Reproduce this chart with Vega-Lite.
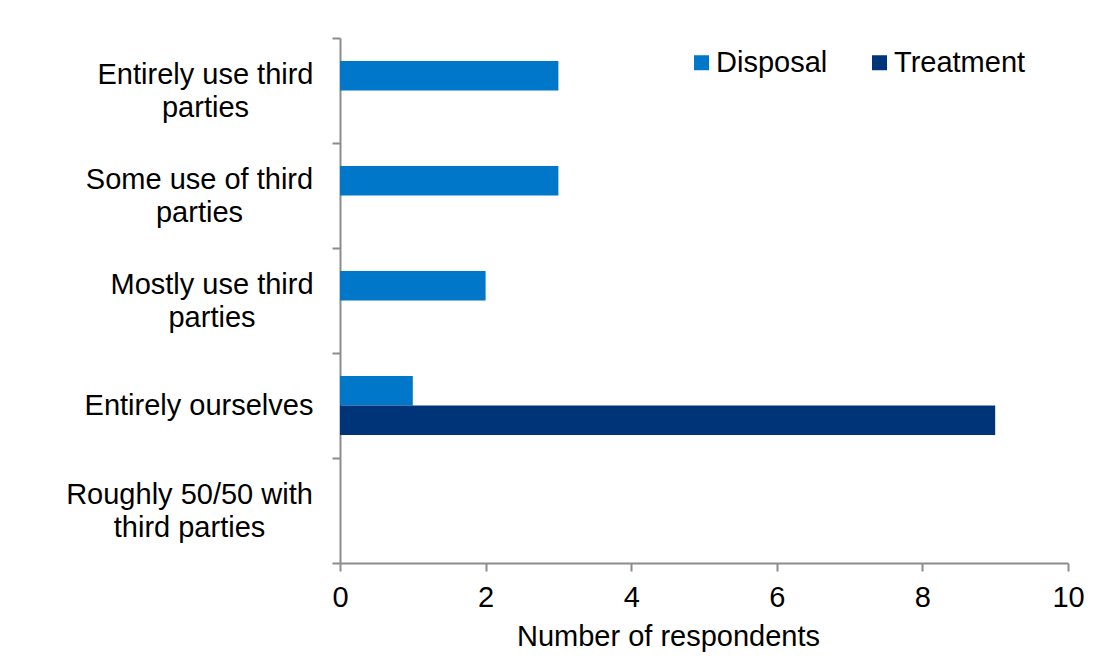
{
  "$schema": "https://vega.github.io/schema/vega-lite/v6.json",
  "autosize": {"type": "none"},
  "width": 728,
  "height": 525,
  "padding": {"left": 340, "top": 38, "right": 26, "bottom": 98},
  "background": "white",
  "data": {
    "values": [
      {"approach": "Entirely use third parties", "activity": "Disposal", "respondents": 3},
      {"approach": "Entirely use third parties", "activity": "Treatment", "respondents": 0},
      {"approach": "Some use of third parties", "activity": "Disposal", "respondents": 3},
      {"approach": "Some use of third parties", "activity": "Treatment", "respondents": 0},
      {"approach": "Mostly use third parties", "activity": "Disposal", "respondents": 2},
      {"approach": "Mostly use third parties", "activity": "Treatment", "respondents": 0},
      {"approach": "Entirely ourselves", "activity": "Disposal", "respondents": 1},
      {"approach": "Entirely ourselves", "activity": "Treatment", "respondents": 9},
      {"approach": "Roughly 50/50 with third parties", "activity": "Disposal", "respondents": 0},
      {"approach": "Roughly 50/50 with third parties", "activity": "Treatment", "respondents": 0}
    ]
  },
  "mark": {"type": "bar"},
  "encoding": {
    "y": {
      "field": "approach",
      "type": "nominal",
      "sort": ["Entirely use third parties", "Some use of third parties", "Mostly use third parties", "Entirely ourselves", "Roughly 50/50 with third parties"],
      "scale": {"paddingInner": 0, "paddingOuter": 0},
      "axis": {
        "title": null,
        "tickBand": "extent",
        "tickSize": 8,
        "labelAlign": "center",
        "labelBaseline": "middle",
        "labelLineHeight": 33,
        "labelLimit": 400,
        "labelPadding": {
          "condition": [
            {"test": "datum.value == 'Entirely use third parties'", "value": 127},
            {"test": "datum.value == 'Some use of third parties'", "value": 133},
            {"test": "datum.value == 'Mostly use third parties'", "value": 120.5},
            {"test": "datum.value == 'Roughly 50/50 with third parties'", "value": 143}
          ],
          "value": 133.5
        },
        "labelOffset": {
          "condition": {"test": "datum.value == 'Entirely ourselves'", "value": 0},
          "value": -16.5
        },
        "labelExpr": "datum.value == 'Entirely use third parties' ? ['Entirely use third', 'parties'] : datum.value == 'Some use of third parties' ? ['Some use of third', 'parties'] : datum.value == 'Mostly use third parties' ? ['Mostly use third', 'parties'] : datum.value == 'Roughly 50/50 with third parties' ? ['Roughly 50/50 with', 'third parties'] : datum.value"
      }
    },
    "yOffset": {
      "field": "activity",
      "type": "nominal",
      "scale": {"paddingInner": 0, "paddingOuter": 0.78}
    },
    "x": {
      "field": "respondents",
      "type": "quantitative",
      "scale": {"domain": [0, 10], "nice": false},
      "axis": {
        "title": "Number of respondents",
        "values": [0, 2, 4, 6, 8, 10],
        "grid": false,
        "labelFlush": false,
        "tickSize": 8,
        "labelPadding": 12,
        "titleBaseline": "alphabetic",
        "titleX": 328,
        "titleY": 82
      }
    },
    "color": {
      "field": "activity",
      "type": "nominal",
      "scale": {"domain": ["Disposal", "Treatment"], "range": ["#0077C8", "#003478"]},
      "legend": {
        "title": null,
        "orient": "none",
        "legendX": 347,
        "legendY": 10,
        "direction": "horizontal",
        "symbolType": "square",
        "symbolSize": 225,
        "symbolStrokeWidth": 0,
        "labelFontSize": 29,
        "labelOffset": 0,
        "columnPadding": 37,
        "labelColor": "#000000",
        "labelFont": "Liberation Sans"
      }
    }
  },
  "config": {
    "view": {"stroke": null},
    "font": "Liberation Sans",
    "axis": {
      "domainColor": "#8c8c8c",
      "domainWidth": 2,
      "tickColor": "#8c8c8c",
      "tickWidth": 2,
      "labelFont": "Liberation Sans",
      "labelFontSize": 29,
      "labelColor": "#000000",
      "titleFont": "Liberation Sans",
      "titleFontSize": 29,
      "titleFontWeight": "normal",
      "titleColor": "#000000"
    }
  }
}
